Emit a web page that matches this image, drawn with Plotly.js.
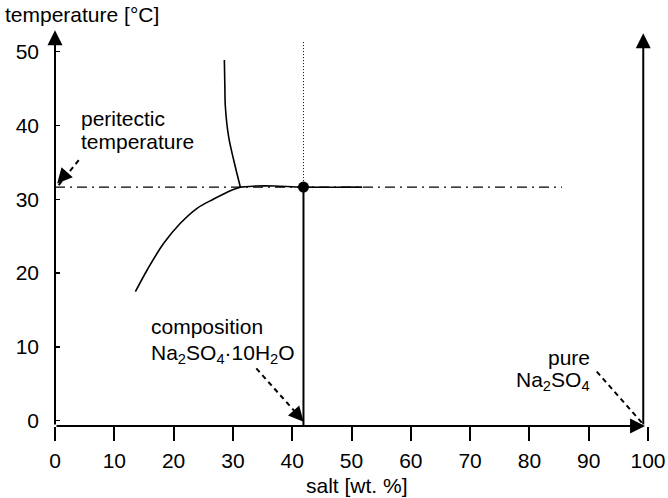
<!DOCTYPE html>
<html>
<head>
<meta charset="utf-8">
<script src="https://cdn.plot.ly/plotly-3.0.1.min.js"></script>
<style>html,body{margin:0;padding:0;background:#fff;}#chart{width:668px;height:498px;}</style>
</head>
<body>
<div id="chart"></div>
<script>
// ---- data ----
const xTicks = [0, 10, 20, 30, 40, 50, 60, 70, 80, 90, 100];
const yTicks = [0, 10, 20, 30, 40, 50];

// solubility curve of Na2SO4·10H2O (lower branch)
const lowerX = [13.56, 15.54, 18.33, 21.14, 23.96, 26.76, 29.57, 31.26];
const lowerY = [17.48, 20.42, 24.04, 26.75, 28.78, 30.04, 31.17, 31.65];
// upper branch
const upperX = [28.56, 28.64, 28.73, 29.28, 30.13, 31.26];
const upperY = [48.88, 45.5, 42.55, 38.48, 35.33, 31.65];
// flat part at the peritectic temperature
const flatX = [31.26, 34.0, 37.0, 41.9, 51.8];
const flatY = [31.65, 31.8, 31.8, 31.65, 31.65];
// peritectic line (dash-dot)
const periX = [0, 85.5];
const periY = [31.65, 31.65];
// peritectic point
const pointX = [41.9];
const pointY = [31.65];
// composition lines
const compSolidX = [41.9, 41.9];
const compSolidY = [31.65, -0.72];
const compDotX = [41.9, 41.9];
const compDotY = [31.65, 51.3];
// dashed pointer shafts
const periArrowX = [4.0, 0.6];
const periArrowY = [35.3, 31.9];
const compArrowX = [33.95, 41.6];
const compArrowY = [7.09, 0.2];
const pureArrowX = [91.36, 99.1];
const pureArrowY = [6.64, -0.4];

const font = {family: 'Liberation Sans, Arial, sans-serif', size: 21, color: '#000'};
const black = '#000';

const traces = [
  {x: periX, y: periY, mode: 'lines', line: {color: black, width: 1.2, dash: '10px,5px,2px,5px'}},
  {x: lowerX, y: lowerY, mode: 'lines', line: {color: black, width: 1.6, shape: 'spline'}},
  {x: upperX, y: upperY, mode: 'lines', line: {color: black, width: 1.6, shape: 'spline'}},
  {x: flatX, y: flatY, mode: 'lines', line: {color: black, width: 1.6, shape: 'spline'}},
  {x: compDotX, y: compDotY, mode: 'lines', line: {color: black, width: 1, dash: '1px,2px'}},
  {x: compSolidX, y: compSolidY, mode: 'lines', line: {color: black, width: 2}},
  {x: periArrowX, y: periArrowY, mode: 'lines', line: {color: black, width: 2, dash: '5px,4px'}},
  {x: compArrowX, y: compArrowY, mode: 'lines', line: {color: black, width: 2, dash: '5px,4px'}},
  {x: pureArrowX, y: pureArrowY, mode: 'lines', line: {color: black, width: 2, dash: '5px,4px'}},
  {x: pointX, y: pointY, mode: 'markers', marker: {color: black, size: 11}}
];
traces.forEach(t => { t.showlegend = false; t.hoverinfo = 'skip'; t.cliponaxis = false; });

function axisArrow(x, y, ax, ay) {
  return {x: x, y: y, ax: ax, ay: ay, xref: 'x', yref: 'y', axref: 'x', ayref: 'y',
    text: '', showarrow: true, arrowhead: 2, arrowsize: 1.5, arrowwidth: 2, arrowcolor: black, standoff: 0};
}
function headOnly(x, y, ax, ay) {
  return {x: x, y: y, ax: ax, ay: ay, xref: 'x', yref: 'y', axref: 'pixel', ayref: 'pixel',
    text: '', showarrow: true, arrowhead: 2, arrowsize: 1.5, arrowwidth: 2, arrowcolor: black, standoff: 0};
}
function label(text, x, y, xanchor, xref, yref) {
  return {text: text, x: x, y: y, xref: xref || 'x', yref: yref || 'y', xanchor: xanchor, yanchor: 'middle',
    showarrow: false, font: font, align: xanchor};
}

const annotations = [
  axisArrow(0, 52.9, 0, -0.72),
  axisArrow(99.5, -0.72, 0, -0.72),
  axisArrow(99.2, 52.5, 99.2, -0.72),
  headOnly(0.37, 32.15, 8, -9),
  headOnly(41.92, -0.14, -8, -9),
  headOnly(99.5, -0.8, -8, -9),
  label('peritectic', 4.1, 40.98, 'left'),
  label('temperature', 4.1, 37.8, 'left'),
  label('composition', 15.8, 12.74, 'left'),
  label('Na<sub>2</sub>SO<sub>4</sub>·10H<sub>2</sub>O', 15.8, 9.0, 'left'),
  label('pure', 90.6, 8.59, 'right'),
  label('Na<sub>2</sub>SO<sub>4</sub>', 90.6, 5.4, 'right'),
  label('temperature [°C]', -0.088, 0.988, 'left', 'paper', 'paper'),
  label('salt [wt. %]', 50.87, -0.142, 'center', 'x', 'paper')
];

const layout = {
  width: 668, height: 498,
  margin: {l: 55, r: 20, t: 10, b: 72},
  paper_bgcolor: '#fff', plot_bgcolor: '#fff',
  font: font,
  showlegend: false,
  xaxis: {range: [0, 100], tickvals: xTicks, ticktext: xTicks.map(String),
    ticks: 'outside', ticklen: 14, tickwidth: 2, tickcolor: black, ticklabelstandoff: 2,
    showline: false, showgrid: false, zeroline: false, tickfont: font, fixedrange: true},
  yaxis: {range: [-0.72, 55.65], tickvals: yTicks, ticktext: yTicks.map(String),
    ticks: 'inside', ticklen: 5, tickwidth: 1.5, tickcolor: black, ticklabelstandoff: 15,
    showline: false, showgrid: false, zeroline: false, tickfont: font, fixedrange: true},
  annotations: annotations
};

Plotly.newPlot('chart', traces, layout, {displayModeBar: false, staticPlot: true});
</script>
</body>
</html>
